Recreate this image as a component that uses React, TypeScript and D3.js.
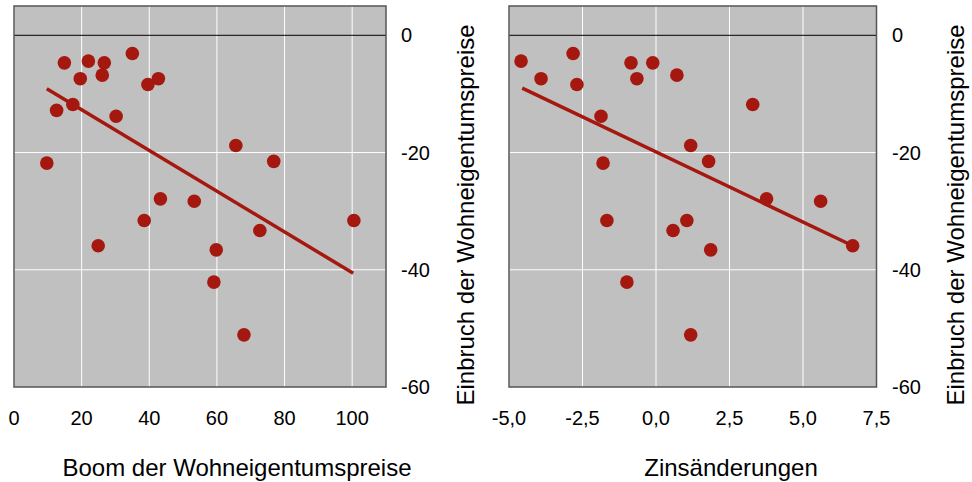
import React from "react";
import * as d3 from "d3";

// Left panel: house price boom (x) vs. house price drop (y)
const boomX = [14.9, 22.0, 26.7, 35.0, 19.6, 26.1, 39.6, 42.7, 17.4, 12.6, 30.2, 65.6, 76.8, 9.7, 43.3, 53.3, 38.5, 100.5, 24.9, 72.7, 59.8, 59.1, 68.0];
const boomY = [-4.7, -4.4, -4.7, -3.1, -7.4, -6.8, -8.4, -7.4, -11.8, -12.8, -13.8, -18.8, -21.5, -21.8, -27.9, -28.3, -31.6, -31.6, -35.9, -33.3, -36.6, -42.1, -51.1];
const boomTrendX = [9.7, 100.3];
const boomTrendY = [-9.1, -40.6];

// Right panel: interest rate changes (x) vs. house price drop (y)
const zinsX = [-4.59, -3.91, -2.82, -2.69, -0.85, -0.11, -0.65, 0.71, -1.87, 3.29, 1.18, 1.79, -1.80, 3.76, 5.60, -1.67, 1.05, 0.58, 6.69, 1.86, -0.99, 1.18];
const zinsY = [-4.4, -7.4, -3.1, -8.4, -4.7, -4.7, -7.4, -6.8, -13.8, -11.8, -18.8, -21.5, -21.8, -27.9, -28.3, -31.6, -31.6, -33.3, -35.9, -36.6, -42.1, -51.1];
const zinsTrendX = [-4.55, 6.69];
const zinsTrendY = [-9.0, -35.9];

const boomTicks = [0, 20, 40, 60, 80, 100];
const zinsTicks = [-5, -2.5, 0, 2.5, 5, 7.5];
const yTicks = [0, -20, -40, -60];

const yTitle = "Einbruch der Wohneigentumspreise";
const boomTitle = "Boom der Wohneigentumspreise";
const zinsTitle = "Zinsänderungen";

const RED = "#a5180f";
const BG = "#c0c0c0";
const FONT = "'Liberation Sans', Arial, Helvetica, sans-serif";

type PanelProps = {
  x0: number; x1: number; y0: number; y1: number;
  xDomain: [number, number];
  xs: number[]; ys: number[];
  tx: number[]; ty: number[];
  xTicks: number[];
  fmt: (v: number) => string;
  yLabelX: number;
  yTitleX: number;
  xTitle: string;
  xTitleCx: number;
};

function Panel(p: PanelProps) {
  const x = d3.scaleLinear().domain(p.xDomain).range([p.x0, p.x1]);
  const y = d3.scaleLinear().domain([-60, 5]).range([p.y1, p.y0]);
  const line = d3.line<number>().x((_, i) => x(p.tx[i])).y((d) => y(d));
  return (
    <g>
      <rect x={p.x0} y={p.y0} width={p.x1 - p.x0} height={p.y1 - p.y0} fill={BG} />
      {p.xTicks.map((t) => (
        <line key={"gx" + t} x1={x(t)} x2={x(t)} y1={p.y0} y2={p.y1} stroke="#fff" strokeWidth={1} />
      ))}
      {yTicks.filter((t) => t !== 0 && t !== -60).map((t) => (
        <line key={"gy" + t} x1={p.x0} x2={p.x1} y1={y(t)} y2={y(t)} stroke="#fff" strokeWidth={1} />
      ))}
      <line x1={p.x0} x2={p.x1} y1={y(0)} y2={y(0)} stroke="#000" strokeWidth={1} />
      <rect x={p.x0} y={p.y0} width={p.x1 - p.x0} height={p.y1 - p.y0} fill="none" stroke="#555" strokeWidth={1.5} />
      <path d={line(p.ty) || ""} fill="none" stroke={RED} strokeWidth={3.5} />
      {p.xs.map((v, i) => (
        <circle key={i} cx={x(v)} cy={y(p.ys[i])} r={6.8} fill={RED} />
      ))}
      {p.xTicks.map((t) => (
        <text key={"tx" + t} x={x(t)} y={425} textAnchor="middle" fontSize={20} fill="#000">{p.fmt(t)}</text>
      ))}
      {yTicks.map((t) => (
        <text key={"ty" + t} x={p.yLabelX} y={y(t)} dy="0.35em" textAnchor="start" fontSize={20} fill="#000">{t}</text>
      ))}
      <text transform={`translate(${p.yTitleX},215) rotate(-90)`} textAnchor="middle" fontSize={24} fill="#000">{yTitle}</text>
      <text x={p.xTitleCx} y={476} textAnchor="middle" fontSize={24} fill="#000">{p.xTitle}</text>
    </g>
  );
}

export default function App() {
  const fmtComma = (v: number) => d3.format(".1f")(v).replace(".", ",").replace("−", "-");
  return (
    <svg width={972} height={482} style={{ position: "absolute", left: 0, top: 0, fontFamily: FONT, background: "#fff" }}>
      <Panel
        x0={14} x1={386} y0={6} y1={387}
        xDomain={[0, 110]}
        xs={boomX} ys={boomY} tx={boomTrendX} ty={boomTrendY}
        xTicks={boomTicks}
        fmt={(v) => String(v)}
        yLabelX={401}
        yTitleX={474}
        xTitle={boomTitle}
        xTitleCx={237}
      />
      <Panel
        x0={509} x1={876.5} y0={6} y1={387}
        xDomain={[-5, 7.5]}
        xs={zinsX} ys={zinsY} tx={zinsTrendX} ty={zinsTrendY}
        xTicks={zinsTicks}
        fmt={fmtComma}
        yLabelX={892}
        yTitleX={964}
        xTitle={zinsTitle}
        xTitleCx={731}
      />
    </svg>
  );
}
